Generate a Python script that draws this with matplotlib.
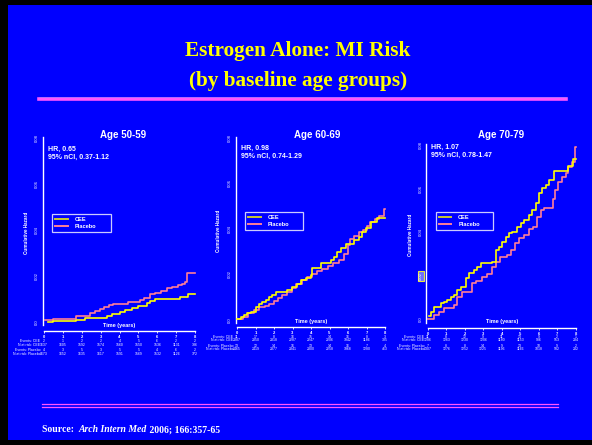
import matplotlib
matplotlib.use('Agg')
import matplotlib.pyplot as plt
from matplotlib.patches import Rectangle
from matplotlib.lines import Line2D
import matplotlib.transforms as mtransforms

# ---------------- data ----------------
years = [0, 1, 2, 3, 4, 5, 6, 7, 8]
panel_titles = ["Age 50-59", "Age 60-69", "Age 70-79"]
hr_texts = ["HR, 0.65", "HR, 0.98", "HR, 1.07"]
ci_texts = ["95% nCI, 0.37-1.12", "95% nCI, 0.74-1.29", "95% nCI, 0.78-1.47"]
yticks = [0.0, 0.02, 0.04, 0.06, 0.08]
ytick_labels = ["0.0", "0.02", "0.04", "0.06", "0.08"]
series_names = ["CEE", "Placebo"]
row_labels = ["Events: CEE", "N at risk: CEE", "Events: Placebo", "N at risk: Placebo"]

cee_t_1 = [0.23, 0.49, 1.70, 2.17, 3.32, 3.60, 4.03, 4.30, 4.65, 5.00, 5.44, 5.60, 5.88, 7.20, 7.65, 8.00]
cee_v_1 = [0.0000, 0.0002, 0.0007, 0.0015, 0.0025, 0.0032, 0.0044, 0.0050, 0.0061, 0.0067, 0.0083, 0.0090, 0.0099, 0.0109, 0.0122, 0.0122]
plac_t_1 = [0.05, 0.49, 1.70, 2.44, 2.70, 2.95, 3.20, 3.45, 3.67, 4.47, 5.08, 5.30, 5.62, 5.90, 6.20, 6.50, 6.80, 7.12, 7.30, 7.45, 7.56, 8.00]
plac_v_1 = [0.0007, 0.0013, 0.0025, 0.0038, 0.0048, 0.0057, 0.0066, 0.0072, 0.0076, 0.0087, 0.0094, 0.0105, 0.0119, 0.0125, 0.0133, 0.0145, 0.0150, 0.0158, 0.0165, 0.0175, 0.0213, 0.0213]

cee_t_2 = [0.02, 0.20, 0.38, 0.55, 0.74, 1.01, 1.19, 1.37, 1.55, 1.73, 1.91, 2.09, 2.72, 2.99, 3.26, 3.44, 3.71, 3.98, 4.05, 4.52, 5.06, 5.24, 5.42, 5.60, 5.87, 6.32, 6.59, 6.77, 6.95, 7.23, 7.59, 8.00]
cee_v_2 = [0.0004, 0.0012, 0.0022, 0.0030, 0.0037, 0.0056, 0.0070, 0.0079, 0.0088, 0.0100, 0.0110, 0.0125, 0.0132, 0.0144, 0.0160, 0.0175, 0.0186, 0.0198, 0.0228, 0.0250, 0.0262, 0.0275, 0.0298, 0.0318, 0.0334, 0.0350, 0.0366, 0.0388, 0.0403, 0.0432, 0.0447, 0.0447]
plac_t_2 = [0.05, 0.30, 0.60, 0.90, 1.20, 1.50, 1.75, 2.00, 2.20, 2.45, 2.70, 2.95, 3.20, 3.50, 3.80, 4.05, 4.30, 4.60, 4.90, 5.20, 5.50, 5.80, 6.00, 6.10, 6.30, 6.60, 6.80, 7.00, 7.20, 7.45, 7.70, 7.95, 8.00]
plac_v_2 = [0.0003, 0.0015, 0.0030, 0.0045, 0.0055, 0.0062, 0.0072, 0.0085, 0.0098, 0.0110, 0.0125, 0.0142, 0.0160, 0.0176, 0.0190, 0.0202, 0.0214, 0.0226, 0.0238, 0.0250, 0.0264, 0.0290, 0.0330, 0.0355, 0.0370, 0.0385, 0.0395, 0.0415, 0.0430, 0.0445, 0.0455, 0.0488, 0.0488]

cee_t_3 = [0.05, 0.16, 0.34, 0.70, 0.88, 1.06, 1.24, 1.42, 1.60, 1.78, 2.05, 2.23, 2.50, 2.68, 2.86, 3.50, 3.68, 3.86, 4.04, 4.22, 4.40, 4.58, 4.85, 5.03, 5.21, 5.48, 5.66, 5.84, 6.02, 6.20, 6.38, 6.56, 6.83, 7.60, 7.85, 8.00]
cee_v_3 = [0.0015, 0.0035, 0.0058, 0.0073, 0.0081, 0.0089, 0.0101, 0.0112, 0.0135, 0.0150, 0.0188, 0.0211, 0.0226, 0.0242, 0.0257, 0.0265, 0.0318, 0.0333, 0.0356, 0.0379, 0.0395, 0.0402, 0.0425, 0.0441, 0.0456, 0.0479, 0.0502, 0.0532, 0.0578, 0.0601, 0.0616, 0.0639, 0.0682, 0.0705, 0.0735, 0.0735]
plac_t_3 = [0.00, 0.34, 0.61, 0.88, 1.42, 1.60, 1.87, 2.41, 2.60, 2.95, 3.20, 3.45, 3.70, 3.90, 4.30, 4.50, 4.70, 4.95, 5.20, 5.45, 5.70, 5.90, 6.10, 6.30, 6.75, 6.90, 7.05, 7.25, 7.45, 7.60, 7.80, 7.95, 8.00]
plac_v_3 = [0.0000, 0.0020, 0.0035, 0.0050, 0.0066, 0.0104, 0.0127, 0.0165, 0.0175, 0.0195, 0.0210, 0.0240, 0.0265, 0.0285, 0.0295, 0.0318, 0.0348, 0.0372, 0.0385, 0.0415, 0.0425, 0.0470, 0.0500, 0.0510, 0.0550, 0.0595, 0.0630, 0.0655, 0.0670, 0.0700, 0.0720, 0.0790, 0.0790]

events_cee_1 = [2, 1, 2, 2, 4, 5, 6, 2, 2]
atrisk_cee_1 = [1637, 1605, 1592, 1574, 1560, 1550, 1536, 1131, 336]
events_plac_1 = [4, 3, 5, 3, 5, 5, 4, 6, 2]
atrisk_plac_1 = [1673, 1652, 1635, 1617, 1591, 1569, 1532, 1126, 372]

events_cee_2 = [11, 17, 8, 16, 15, 14, 16, 8, 3]
atrisk_cee_2 = [2387, 2350, 2318, 2287, 2247, 2206, 1942, 1186, 385]
events_plac_2 = [13, 12, 14, 16, 13, 14, 16, 7, 4]
atrisk_plac_2 = [2465, 2419, 2377, 2341, 2300, 2258, 1968, 1280, 463]

events_cee_3 = [11, 8, 12, 9, 11, 13, 9, 2, 1]
atrisk_cee_3 = [1286, 1263, 1230, 1206, 1180, 1153, 986, 553, 234]
events_plac_3 = [7, 8, 8, 14, 9, 13, 10, 9, 2]
atrisk_plac_3 = [1307, 1276, 1252, 1225, 1196, 1166, 1018, 582, 232]

# ---------------- style / layout ----------------
W, H = 592, 445
BLUE = '#0000ff'
YEL = '#ffff00'
PINK = '#ff7f96'
SANS = ['Liberation Sans', 'DejaVu Sans']
SERIF = ['Liberation Serif', 'DejaVu Serif']

fig = plt.figure(figsize=(W / 100, H / 100), dpi=100)
fig.patch.set_facecolor('black')
fig.add_artist(Rectangle((7.5 / W, 5 / H), 1 - 7.5 / W, 1 - 9.5 / H,
                         transform=fig.transFigure, fc=BLUE, ec='none', zorder=0))

def fx(x):
    return x / W

def fy(y):
    return 1 - y / H

# title
fig.text(fx(298), fy(51), "Estrogen Alone: MI Risk", color=YEL, fontsize=15.3,
         fontweight='bold', family=SERIF, ha='center', va='center')
fig.text(fx(298), fy(81), "(by baseline age groups)", color=YEL, fontsize=15.3,
         fontweight='bold', family=SERIF, ha='center', va='center')
fig.add_artist(Line2D([fx(38.5), fx(566)], [fy(98.6), fy(98.6)], color='#ff55ff', lw=2.6,
                      transform=fig.transFigure))
fig.add_artist(Line2D([fx(38.5), fx(566)], [fy(97.2), fy(97.2)], color='#b070ff', lw=0.6,
                      transform=fig.transFigure))
# bottom double line
for yy in (404.3, 406.8):
    fig.add_artist(Line2D([fx(41.5), fx(558)], [fy(yy), fy(yy)], color='#ff55ff', lw=0.9,
                          transform=fig.transFigure))

# panel layout in pixels
layouts = [
    dict(x0=44, x8=195, y0=321.7, y8=138, spine=331, ylab=26, title=(123, 135),
         hr=(47.7, 149), leg=(52, 214, 59, 19), rows=(336.7, 341, 345, 350.3, 354.3)),
    dict(x0=237, x8=385, y0=320, y8=138, spine=327, ylab=219, title=(317, 135),
         hr=(240.7, 148.3), leg=(245, 212, 58, 19), rows=(332.7, 336.7, 340, 346, 349.3)),
    dict(x0=427.7, x8=575.7, y0=319.3, y8=145, spine=327.7, ylab=410, title=(501, 135),
         hr=(431, 147.3), leg=(435.7, 212, 57, 19), rows=(332.7, 337.3, 340, 346, 349.3)),
]

cee_t = [cee_t_1, cee_t_2, cee_t_3]
cee_v = [cee_v_1, cee_v_2, cee_v_3]
plac_t = [plac_t_1, plac_t_2, plac_t_3]
plac_v = [plac_v_1, plac_v_2, plac_v_3]
tables = [
    [events_cee_1, atrisk_cee_1, events_plac_1, atrisk_plac_1],
    [events_cee_2, atrisk_cee_2, events_plac_2, atrisk_plac_2],
    [events_cee_3, atrisk_cee_3, events_plac_3, atrisk_plac_3],
]

for i, L in enumerate(layouts):
    ppy = (L['x8'] - L['x0']) / 8.0
    ppv = (L['y0'] - L['y8']) / 0.08
    xl = L['x0'] - 1.5
    xr = L['x8'] + 1.5
    yt = L['y8'] - 3
    yb = L['spine']
    ax = fig.add_axes([fx(xl), fy(yb), (xr - xl) / W, (yb - yt) / H])
    ax.set_facecolor('none')
    ax.set_xlim(-1.5 / ppy, 8 + 1.5 / ppy)
    ax.set_ylim(-(yb - L['y0']) / ppv, 0.08 + 3 / ppv)

    ax.step(cee_t[i], cee_v[i], where='post', color=YEL, lw=1.2, label=series_names[0], zorder=3)
    ax.step(plac_t[i], plac_v[i], where='post', color=PINK, lw=1.2, label=series_names[1], zorder=2)

    for s in ('top', 'right'):
        ax.spines[s].set_visible(False)
    ax.spines['left'].set_color('white')
    ax.spines['left'].set_linewidth(1.0)
    ax.spines['left'].set_bounds(-0.0015, 0.0805)
    ax.spines['bottom'].set_color('white')
    ax.spines['bottom'].set_linewidth(1.0)
    ax.spines['bottom'].set_bounds(0, 8)

    ax.set_yticks(yticks)
    ax.set_yticklabels(ytick_labels, rotation=90, va='center', fontsize=3, color='white',
                       family=SANS)
    ax.tick_params(axis='y', length=0, pad=2.5)
    ax.set_xticks(years)
    ax.set_xticklabels([str(y) for y in years], fontsize=3, color='white',
                       family=SANS, fontweight='bold')
    ax.tick_params(axis='x', length=1.5, width=0.6, color='white', pad=1.5)

    ax.set_ylabel("Cumulative Hazard", fontsize=3.3, color='white', family=SANS,
                  fontweight='bold')
    ax.yaxis.label.set_va('center')
    ax.yaxis.set_label_coords((L['ylab'] - xl) / (xr - xl), 0.5)

    ax.annotate("Time (years)", xy=(4, 0), xycoords=('data', 'axes fraction'),
                xytext=(0, 4.3), textcoords='offset points', ha='center', va='center',
                fontsize=4, color='white', family=SANS, fontweight='bold')

    fig.text(fx(L['title'][0]), fy(L['title'][1]), panel_titles[i], fontsize=7,
             fontweight='bold', color='white', family=SANS, ha='center', va='center')
    fig.text(fx(L['hr'][0]), fy(L['hr'][1]), hr_texts[i], fontsize=5, fontweight='bold',
             color='white', family=SANS, ha='left', va='center')
    fig.text(fx(L['hr'][0]), fy(L['hr'][1] + 8.5), ci_texts[i], fontsize=5, fontweight='bold',
             color='white', family=SANS, ha='left', va='center')

    lx, ly, lw_, lh = L['leg']
    leg = ax.legend(loc='upper left', bbox_to_anchor=(fx(lx), fy(ly + lh), lw_ / W, lh / H),
                    bbox_transform=fig.transFigure, mode='expand', borderaxespad=0,
                    handlelength=2.2, handletextpad=1.2, labelspacing=0.25,
                    borderpad=0.55, fancybox=False, frameon=True,
                    prop=dict(family=SANS, weight='bold', size=4.1))
    leg.get_frame().set_facecolor(BLUE)
    leg.get_frame().set_edgecolor('white')
    leg.get_frame().set_linewidth(0.9)
    for t in leg.get_texts():
        t.set_color('white')
    for h in leg.get_lines():
        h.set_linewidth(1.4)
    leg.get_lines()[0].set_color('#c8c832')

    # risk table
    trans = mtransforms.blended_transform_factory(ax.transData, fig.transFigure)
    for r in range(4):
        yrow = fy(L['rows'][r + 1])
        ax.annotate(row_labels[r], xy=(0, yrow), xycoords=trans, xytext=(-2.5, 0),
                    textcoords='offset points', ha='right', va='center', fontsize=2.5,
                    color='white', family=SANS, annotation_clip=False)
        for k, yr in enumerate(years):
            ax.text(yr, yrow, str(tables[i][r][k]), transform=trans, ha='center',
                    va='center', fontsize=2.5, color='white', family=SANS, clip_on=False)

    if i == 2:
        lab = ax.get_yticklabels()[1]
        lab.set_bbox(dict(facecolor='#7070ff', edgecolor='#e8e840', linewidth=0.8, pad=0.8))

# source line
fig.canvas.draw()
renderer = fig.canvas.get_renderer()
x = fx(41.5)
parts = [("Source:  ", 'normal'), ("Arch Intern Med", 'italic'), (" 2006; 166:357-65", 'normal')]
for txt, style in parts:
    t = fig.text(x, fy(430), txt, color='white', fontsize=7, fontweight='bold',
                 fontstyle=style, family=SERIF, ha='left', va='center')
    bb = t.get_window_extent(renderer=renderer)
    x += bb.width / W

fig.savefig('out.png', dpi=100, facecolor=fig.get_facecolor())
